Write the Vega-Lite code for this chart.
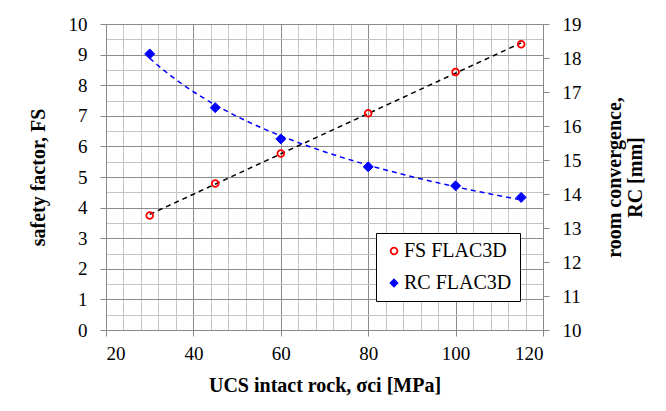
{
  "$schema": "https://vega.github.io/schema/vega-lite/v6.json",
  "width": 437,
  "height": 306,
  "autosize": "none",
  "padding": {"left": 106, "top": 24, "right": 123, "bottom": 81},
  "background": "white",
  "config": {
    "font": "Liberation Serif",
    "view": {"stroke": null},
    "axis": {
      "labelFont": "Liberation Serif",
      "labelFontSize": 19,
      "labelColor": "black",
      "titleFont": "Liberation Serif",
      "titleFontSize": 20,
      "titleFontWeight": "bold",
      "titleColor": "black",
      "domainColor": "#888888",
      "tickColor": "#888888",
      "tickSize": 6
    },
    "legend": {
      "labelFont": "Liberation Serif"
    }
  },
  "data": {
    "values": [
      {"ucs": 30, "fs": 3.74, "rc": 18.12},
      {"ucs": 45, "fs": 4.79, "rc": 16.54},
      {"ucs": 60, "fs": 5.77, "rc": 15.62},
      {"ucs": 80, "fs": 7.08, "rc": 14.8},
      {"ucs": 100, "fs": 8.43, "rc": 14.24},
      {"ucs": 115, "fs": 9.34, "rc": 13.9}
    ]
  },
  "encoding": {
    "x": {
      "field": "ucs",
      "type": "quantitative",
      "title": "UCS intact rock, σci [MPa]",
      "scale": {"domain": [20, 120], "nice": false},
      "axis": {
        "values": [20, 24, 28, 32, 36, 40, 44, 48, 52, 56, 60, 64, 68, 72, 76, 80, 84, 88, 92, 96, 100, 104, 108, 112, 116, 120],
        "labelExpr": "datum.value % 20 === 0 ? format(datum.value, 'd') : ''",
        "tickOpacity": {"condition": {"test": "datum.value % 20 === 0", "value": 1}, "value": 0},
        "grid": true,
        "gridColor": {"condition": {"test": "datum.value % 20 === 0", "value": "#8c8c8c"}, "value": "#c4c4c4"},
        "labelPadding": 8,
        "titlePadding": 12
      }
    }
  },
  "layer": [
    {
      "encoding": {
        "y": {
          "field": "fs",
          "type": "quantitative",
          "title": "safety factor, FS",
          "scale": {"domain": [0, 10], "nice": false},
          "axis": {
            "orient": "left",
            "values": [0, 0.5, 1, 1.5, 2, 2.5, 3, 3.5, 4, 4.5, 5, 5.5, 6, 6.5, 7, 7.5, 8, 8.5, 9, 9.5, 10],
            "labelExpr": "datum.value % 1 === 0 ? format(datum.value, 'd') : ''",
            "tickOpacity": {"condition": {"test": "datum.value % 1 === 0", "value": 1}, "value": 0},
            "grid": true,
            "gridColor": {"condition": {"test": "datum.value % 1 === 0", "value": "#8c8c8c"}, "value": "#c4c4c4"},
            "labelPadding": 13,
            "titlePadding": 20
          }
        }
      },
      "layer": [
        {
          "transform": [{"regression": "fs", "on": "ucs"}],
          "mark": {"type": "line", "color": "black", "strokeDash": [5, 4], "strokeWidth": 1.5}
        },
        {
          "mark": {"type": "point", "size": 45, "strokeWidth": 1.8, "opacity": 1},
          "encoding": {
            "stroke": {
              "datum": "FS FLAC3D",
              "type": "nominal",
              "scale": {"domain": ["FS FLAC3D", "RC FLAC3D"], "range": ["#ff0000", "#0000ff"]},
              "legend": {
                "title": null,
                "orient": "none",
                "legendX": 270,
                "legendY": 209,
                "direction": "vertical",
                "strokeColor": "black",
                "fillColor": "white",
                "padding": 8,
                "labelFontSize": 20,
                "labelColor": "black",
                "rowPadding": 12,
                "symbolSize": 45,
                "symbolStrokeWidth": 1.8,
                "labelOffset": 0
              }
            },
            "fill": {
              "datum": "FS FLAC3D",
              "type": "nominal",
              "scale": {"domain": ["FS FLAC3D", "RC FLAC3D"], "range": ["transparent", "#0000ff"]}
            },
            "shape": {
              "datum": "FS FLAC3D",
              "type": "nominal",
              "scale": {"domain": ["FS FLAC3D", "RC FLAC3D"], "range": ["circle", "diamond"]}
            }
          }
        }
      ]
    },
    {
      "encoding": {
        "y": {
          "field": "rc",
          "type": "quantitative",
          "title": ["room convergence,", "RC [mm]"],
          "scale": {"domain": [10, 19], "nice": false},
          "axis": {
            "orient": "right",
            "values": [10, 11, 12, 13, 14, 15, 16, 17, 18, 19],
            "titleLineHeight": 21,
            "grid": false,
            "labelPadding": 13,
            "titleAngle": -90,
            "titlePadding": 22
          }
        }
      },
      "layer": [
        {
          "transform": [{"regression": "rc", "on": "ucs", "method": "pow"}],
          "mark": {"type": "line", "color": "#0000ff", "strokeDash": [5, 4], "strokeWidth": 1.5}
        },
        {
          "mark": {"type": "point", "size": 100, "strokeWidth": 1, "opacity": 1},
          "encoding": {
            "stroke": {"datum": "RC FLAC3D", "type": "nominal"},
            "fill": {"datum": "RC FLAC3D", "type": "nominal"},
            "shape": {"datum": "RC FLAC3D", "type": "nominal"}
          }
        }
      ]
    }
  ],
  "resolve": {"scale": {"y": "independent"}}
}
